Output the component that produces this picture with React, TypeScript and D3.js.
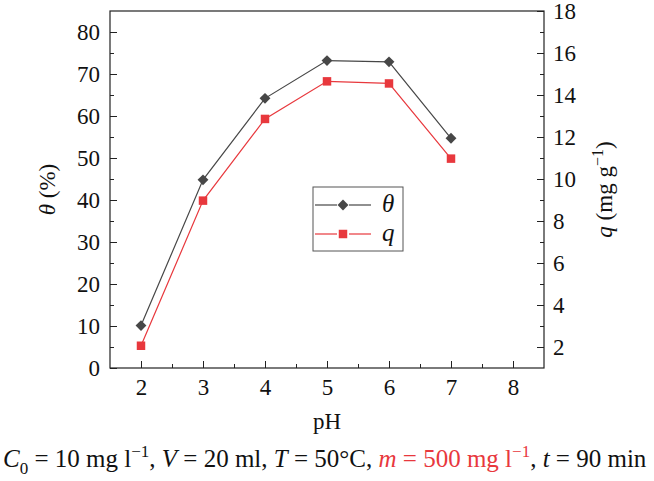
import { useEffect, useRef } from "react";
import * as d3 from "d3";

// values
const phValues = [2, 3, 4, 5, 6, 7];
const thetaValues = [10.1, 44.8, 64.2, 73.2, 72.9, 54.7];
const qValues = [2.06, 8.97, 12.86, 14.65, 14.55, 10.97];

const xTicks = [2, 3, 4, 5, 6, 7, 8];
const leftTicks = [0, 10, 20, 30, 40, 50, 60, 70, 80];
const rightTicks = [2, 4, 6, 8, 10, 12, 14, 16, 18];

const width = 654;
const height = 481;
const margin = { top: 11, right: 110, bottom: 113, left: 110 };

const darkColor = "#474747";
const redColor = "#e8383d";
const font = "'Liberation Serif', 'Times New Roman', serif";

const drawChart = (node: SVGSVGElement) => {
    const svg = d3.select(node);
    svg.selectAll("*").remove();

    const x0 = margin.left;
    const x1 = width - margin.right;
    const y0 = height - margin.bottom;
    const y1 = margin.top;

    const x = d3.scaleLinear().domain([1.5, 8.5]).range([x0, x1]);
    const yLeft = d3.scaleLinear().domain([0, 85]).range([y0, y1]);
    const yRight = d3.scaleLinear().domain([1, 18]).range([y0, y1]);

    // axes, ticks pointing inwards
    const styleAxis = (g: any) => {
        g.attr("font-family", font).attr("font-size", 23);
        g.select(".domain").remove();
        g.selectAll("line").attr("stroke", "#222").attr("stroke-width", 1);
        g.selectAll("text")
            .attr("font-family", font)
            .attr("font-size", 23)
            .attr("fill", "#111");
    };

    svg.append("g")
        .attr("transform", `translate(0,${y0})`)
        .call(d3.axisBottom(x).tickValues(xTicks).tickSize(-7).tickPadding(11).tickFormat(d3.format("d")))
        .call(styleAxis);
    svg.append("g")
        .attr("transform", `translate(0,${y0})`)
        .call(d3.axisBottom(x).tickValues(d3.range(2.5, 8, 1)).tickSize(-4).tickFormat(() => ""))
        .call(styleAxis);

    svg.append("g")
        .attr("transform", `translate(${x0},0)`)
        .call(d3.axisLeft(yLeft).tickValues(leftTicks).tickSize(-7).tickPadding(10).tickFormat(d3.format("d")))
        .call(styleAxis);
    svg.append("g")
        .attr("transform", `translate(${x0},0)`)
        .call(d3.axisLeft(yLeft).tickValues(d3.range(5, 85, 10)).tickSize(-4).tickFormat(() => ""))
        .call(styleAxis);

    svg.append("g")
        .attr("transform", `translate(${x1},0)`)
        .call(d3.axisRight(yRight).tickValues(rightTicks).tickSize(-7).tickPadding(9).tickFormat(d3.format("d")))
        .call(styleAxis);
    svg.append("g")
        .attr("transform", `translate(${x1},0)`)
        .call(d3.axisRight(yRight).tickValues(d3.range(3, 18, 2)).tickSize(-4).tickFormat(() => ""))
        .call(styleAxis);

    // frame
    svg.append("rect")
        .attr("x", x0)
        .attr("y", y1)
        .attr("width", x1 - x0)
        .attr("height", y0 - y1)
        .attr("fill", "none")
        .attr("stroke", "#222")
        .attr("stroke-width", 1.2);

    // lines
    const thetaLine = d3.line<number>().x((d, i) => x(phValues[i])).y(d => yLeft(d));
    const qLine = d3.line<number>().x((d, i) => x(phValues[i])).y(d => yRight(d));

    svg.append("path")
        .attr("d", thetaLine(thetaValues))
        .attr("fill", "none")
        .attr("stroke", darkColor)
        .attr("stroke-width", 1.2);
    svg.append("path")
        .attr("d", qLine(qValues))
        .attr("fill", "none")
        .attr("stroke", redColor)
        .attr("stroke-width", 1.2);

    const diamond = d3.symbol().type(d3.symbolDiamond2).size(75);
    const square = d3.symbol().type(d3.symbolSquare).size(72);

    svg.append("g")
        .selectAll("path")
        .data(thetaValues)
        .join("path")
        .attr("transform", (d, i) => `translate(${x(phValues[i])},${yLeft(d)})`)
        .attr("d", diamond())
        .attr("fill", darkColor);
    svg.append("g")
        .selectAll("path")
        .data(qValues)
        .join("path")
        .attr("transform", (d, i) => `translate(${x(phValues[i])},${yRight(d)})`)
        .attr("d", square())
        .attr("fill", redColor);

    // legend
    const legend = svg.append("g").attr("transform", "translate(313,187)");
    legend.append("rect")
        .attr("width", 90)
        .attr("height", 64)
        .attr("fill", "white")
        .attr("stroke", "#555")
        .attr("stroke-width", 1);
    const items = [
        { label: "θ", color: darkColor, shape: diamond, y: 18 },
        { label: "q", color: redColor, shape: square, y: 47 },
    ];
    items.forEach(item => {
        legend.append("line")
            .attr("x1", 2).attr("x2", 24)
            .attr("y1", item.y).attr("y2", item.y)
            .attr("stroke", item.color).attr("stroke-width", 1.2);
        legend.append("line")
            .attr("x1", 36).attr("x2", 58)
            .attr("y1", item.y).attr("y2", item.y)
            .attr("stroke", item.color).attr("stroke-width", 1.2);
        legend.append("path")
            .attr("transform", `translate(30,${item.y})`)
            .attr("d", item.shape())
            .attr("fill", item.color);
        legend.append("text")
            .attr("x", 69)
            .attr("y", item.y + 7)
            .attr("font-family", font)
            .attr("font-size", 25)
            .attr("font-style", "italic")
            .attr("fill", "#111")
            .text(item.label);
    });

    // axis titles
    const leftTitle = svg.append("text")
        .attr("transform", `translate(55,${(y0 + y1) / 2}) rotate(-90)`)
        .attr("text-anchor", "middle")
        .attr("font-family", font)
        .attr("font-size", 23)
        .attr("fill", "#111");
    leftTitle.append("tspan").attr("font-style", "italic").text("θ");
    leftTitle.append("tspan").text(" (%)");

    const rightTitle = svg.append("text")
        .attr("transform", `translate(612,${(y0 + y1) / 2}) rotate(-90)`)
        .attr("text-anchor", "middle")
        .attr("font-family", font)
        .attr("font-size", 23)
        .attr("fill", "#111");
    rightTitle.append("tspan").attr("font-style", "italic").text("q");
    rightTitle.append("tspan").text(" (mg g");
    rightTitle.append("tspan").attr("dy", -9).attr("font-size", 16).text("−1");
    rightTitle.append("tspan").attr("dy", 9).text(")");

    svg.append("text")
        .attr("x", (x0 + x1) / 2)
        .attr("y", 429)
        .attr("text-anchor", "middle")
        .attr("font-family", font)
        .attr("font-size", 23)
        .attr("fill", "#111")
        .text("pH");

    // caption with experimental conditions
    const caption = svg.append("text")
        .attr("x", 3)
        .attr("y", 467)
        .attr("font-family", font)
        .attr("font-size", 25)
        .attr("fill", "#111");
    const parts: [string, any][] = [
        ["C", { italic: true }],
        ["0", { sub: true }],
        [" = 10 mg l", {}],
        ["−1", { sup: true }],
        [", ", {}],
        ["V", { italic: true }],
        [" = 20 ml, ", {}],
        ["T", { italic: true }],
        [" = 50°C, ", {}],
        ["m", { italic: true, red: true }],
        [" = 500 mg l", { red: true }],
        ["−1", { sup: true, red: true }],
        [", ", {}],
        ["t", { italic: true }],
        [" = 90 min", {}],
    ];
    let shift = 0;
    parts.forEach(([txt, o]) => {
        const target = o.sub ? 7 : o.sup ? -10 : 0;
        const ts = caption.append("tspan")
            .attr("dy", target - shift)
            .attr("fill", o.red ? redColor : "#111")
            .text(txt);
        shift = target;
        if (o.italic) ts.attr("font-style", "italic");
        if (o.sub || o.sup) ts.attr("font-size", 17);
    });
};

export default function App() {
    const ref = useRef<SVGSVGElement>(null);

    useEffect(() => {
        if (ref.current) drawChart(ref.current);
    }, []);

    return (
        <svg
            ref={ref}
            width={width}
            height={height}
            style={{ position: "absolute", left: 0, top: 0, background: "white" }}
        />
    );
}
